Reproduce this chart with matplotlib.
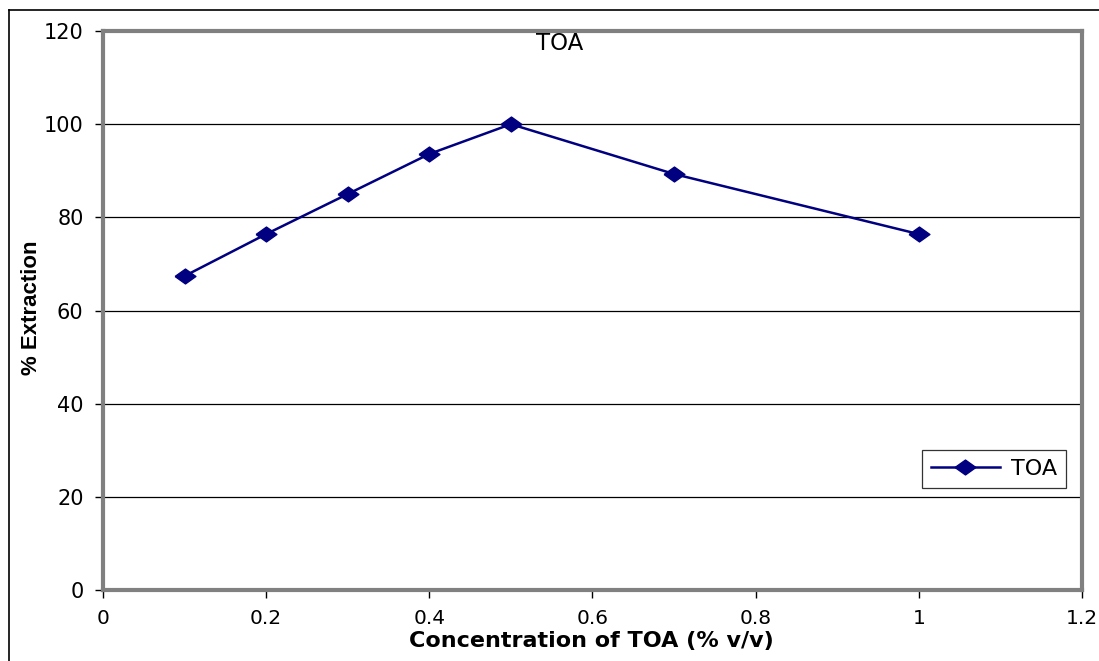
import matplotlib
matplotlib.use("Agg")
import matplotlib.pyplot as plt
from matplotlib.lines import Line2D

conc = [0.1, 0.2, 0.3, 0.4, 0.5, 0.7, 1.0]
extraction = [67.4, 76.4, 85.0, 93.6, 100.0, 89.3, 76.4]
xticks = [0, 0.2, 0.4, 0.6, 0.8, 1, 1.2]
xtick_labels = ["0", "0.2", "0.4", "0.6", "0.8", "1", "1.2"]
yticks = [0, 20, 40, 60, 80, 100, 120]

plt.rcParams["font.family"] = ["DejaVu Sans"]

fig = plt.figure(figsize=(10.99, 6.61), dpi=100)
ax = fig.add_axes([0.0937, 0.1074, 0.8908, 0.8457])

# outer chart frame (top and left edges show)
fig.add_artist(Line2D([9 / 1099, 1], [1 - 10 / 661, 1 - 10 / 661], color="black", lw=1.2))
fig.add_artist(Line2D([9 / 1099, 9 / 1099], [0, 1 - 10 / 661], color="black", lw=1.2))

# wide diamond marker
diamond = [(-1.4, 0), (0, 1), (1.4, 0), (0, -1), (-1.4, 0)]

navy = "#000080"
ax.plot(conc, extraction, color=navy, lw=1.8, marker=diamond, markersize=15,
        markerfacecolor=navy, markeredgecolor=navy, label="TOA")

ax.set_xlim(0, 1.2)
ax.set_ylim(0, 120)
ax.set_xticks(xticks)
ax.set_xticklabels(xtick_labels)
ax.set_yticks(yticks)
for y in yticks[1:-1]:
    ax.axhline(y, color="black", lw=0.9, zorder=0)

for s in ax.spines.values():
    s.set_color("#808080")
    s.set_linewidth(3)

ax.tick_params(axis="y", direction="out", length=6, width=1, color="black",
               labelsize=15, pad=8)
ax.tick_params(axis="x", direction="out", length=6, width=1, color="black",
               labelsize=14.5, pad=8)

ax.text(0.466, 0.998, "TOA", transform=ax.transAxes, ha="center", va="top", fontsize=16.5)

ax.set_xlabel("Concentration of TOA (% v/v)", fontsize=16, fontweight="bold")
ax.xaxis.set_label_coords(0.4985, -0.074)
ax.set_ylabel("% Extraction", fontsize=16, fontweight="bold",
              family=["Liberation Sans", "DejaVu Sans"])
ax.yaxis.set_label_coords(-0.062, 0.505)

leg = ax.legend(loc="lower right", bbox_to_anchor=(0.9837, 0.1825), borderaxespad=0,
                fontsize=16, frameon=True, fancybox=False, edgecolor="black",
                handlelength=3.1, borderpad=0.4, handletextpad=0.5)
leg.get_frame().set_linewidth(0.9)

fig.savefig("out.png", dpi=100)
